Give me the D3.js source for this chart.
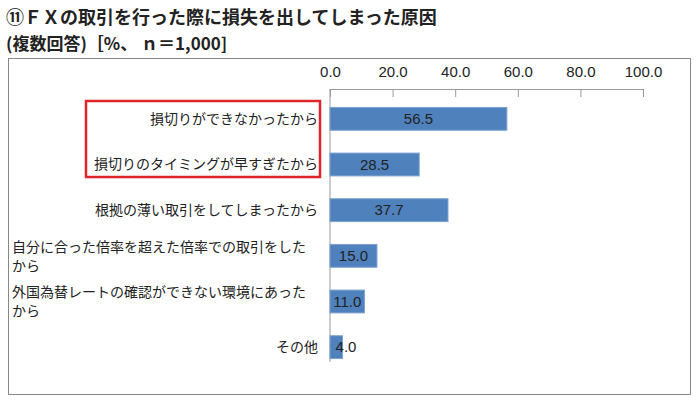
<!DOCTYPE html>
<html><head><meta charset="utf-8">
<script src="https://cdn.jsdelivr.net/npm/d3@7"></script>
<style>
body{margin:0;background:#fff;font-family:"Noto Sans CJK JP","Noto Sans",sans-serif;}
</style></head>
<body><div id="chart"></div>
<script>
const labels = [
  ['損切りができなかったから'],
  ['損切りのタイミングが早すぎたから'],
  ['根拠の薄い取引をしてしまったから'],
  ['自分に合った倍率を超えた倍率での取引をした','から'],
  ['外国為替レートの確認ができない環境にあった','から'],
  ['その他']
];
const values = [56.5, 28.5, 37.7, 15.0, 11.0, 4.0];
const ticks = [0, 20, 40, 60, 80, 100];

const W = 700, H = 405;
const svg = d3.select('#chart').append('svg').attr('width', W).attr('height', H);

svg.append('text').attr('x', 6).attr('y', 24)
  .style('font-size', '18px').style('font-weight', '700').style('fill', '#222')
  .text('⑪ＦＸの取引を行った際に損失を出してしまった原因');
svg.append('text').attr('x', 6).attr('y', 50)
  .style('font-size', '17px').style('font-weight', '700').style('fill', '#222')
  .text('(複数回答)［%、 ｎ＝1,000]');

svg.append('rect').attr('x', 8.5).attr('y', 58.5).attr('width', 682).attr('height', 336)
  .attr('fill', 'none').attr('stroke', '#888');

const x = d3.scaleLinear().domain([0, 100]).range([330, 643]);
const y = d3.scaleBand().domain(d3.range(values.length)).range([96, 370]).paddingInner(0.5).paddingOuter(0.25);

/* top axis */
const ax = svg.append('g').attr('transform', 'translate(0,89)')
  .call(d3.axisTop(x).tickValues(ticks).tickFormat(d3.format('.1f')).tickSize(-8).tickPadding(12));
ax.select('.domain').attr('stroke', '#999');
ax.selectAll('line').attr('stroke', '#999');
ax.selectAll('text').style('font-size', '15px').style('font-family', '"Liberation Sans",sans-serif').style('fill', '#222');
svg.append('line').attr('x1', x(0)).attr('x2', x(0)).attr('y1', 89).attr('y2', 362).attr('stroke', '#999');

/* bars */
const g = svg.append('g');
g.selectAll('rect').data(values).join('rect')
  .attr('x', x(0)).attr('y', (d, i) => y(i))
  .attr('width', d => x(d) - x(0)).attr('height', y.bandwidth())
  .attr('fill', '#4f81bd').attr('stroke', '#7ea1cf').attr('stroke-width', 1);
g.selectAll('text.v').data(values).join('text').attr('class', 'v')
  .attr('x', d => x(0) + Math.max((x(d) - x(0)) / 2, 16)).attr('y', (d, i) => y(i) + y.bandwidth() / 2)
  .attr('dy', '.35em').attr('text-anchor', 'middle')
  .style('font-size', '15px').style('font-family', '"Liberation Sans",sans-serif').style('fill', '#222')
  .text(d => d.toFixed(1));

/* category labels */
labels.forEach((ls, i) => {
  const cy = y(i) + y.bandwidth() / 2;
  const multi = ls.length > 1;
  ls.forEach((l, j) => {
    svg.append('text')
      .attr('x', multi ? 12 : 318)
      .attr('text-anchor', multi ? 'start' : 'end')
      .attr('y', cy + (multi ? (j === 0 ? -9 : 10) : 0)).attr('dy', '.35em')
      .style('font-size', '14px').style('fill', '#222')
      .text(l);
  });
});
svg.append('rect').attr('x', 86).attr('y', 101).attr('width', 234).attr('height', 76)
  .attr('fill', 'none').attr('stroke', '#e0242a').attr('stroke-width', 2.5);
</script></body></html>
